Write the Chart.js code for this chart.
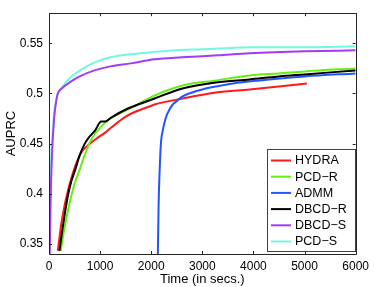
<!DOCTYPE html>
<html>
<head>
<meta charset="utf-8">
<script src="https://cdn.jsdelivr.net/npm/chart.js@4/dist/chart.umd.min.js"></script>
<style>
  html, body { margin:0; padding:0; background:#fff; }
  #wrap { width:374px; height:287px; position:relative; }
</style>
</head>
<body>
<div id="wrap"><canvas id="chart"></canvas></div>
<script>
// values (time in secs, AUPRC)
const hydraT = [172,240,303,370,434,530,630,800,955,1100,1217,1500,1700,1967,2065,2618,3272,3924,4500,5045];
const hydraV = [0.343,0.37,0.388,0.403,0.415,0.43,0.441,0.450,0.456,0.461,0.466,0.477,0.482,0.487,0.489,0.495,0.501,0.504,0.507,0.510];

const pcdRT = [230,300,400,500,600,695,825,1020,1200,1540,1800,2065,2613,3272,3924,4500,5000,6000];
const pcdRV = [0.343,0.365,0.39,0.41,0.424,0.438,0.454,0.467,0.475,0.484,0.491,0.498,0.508,0.513,0.518,0.520,0.522,0.525];

const admmT = [2130,2145,2163,2180,2196,2230,2260,2300,2358,2420,2490,2613,2800,3000,3272,3600,4119,5000,6000];
const admmV = [0.34,0.39,0.421,0.442,0.454,0.464,0.471,0.478,0.484,0.489,0.492,0.497,0.501,0.504,0.507,0.510,0.513,0.517,0.520];

const dbcdRT = [205,250,303,370,434,520,597,700,793,900,1020,1100,1217,1543,1800,2065,2613,3272,3924,4500,5000,6000];
const dbcdRV = [0.343,0.36,0.378,0.398,0.412,0.425,0.438,0.450,0.457,0.463,0.472,0.472,0.476,0.485,0.490,0.495,0.505,0.511,0.514,0.517,0.519,0.523];

const dbcdST = [15,30,60,100,140,172,250,434,600,890,1200,1600,2065,2600,3300,3928,5000,6000];
const dbcdSV = [0.34,0.39,0.44,0.475,0.492,0.500,0.505,0.512,0.517,0.523,0.527,0.530,0.534,0.536,0.538,0.540,0.542,0.543];

const pcdST = [0,10,23,45,75,110,140,172,205,300,400,550,700,900,1200,1600,2000,2500,3000,4000,5000,6000];
const pcdSV = [0.34,0.37,0.395,0.44,0.463,0.485,0.493,0.500,0.503,0.509,0.515,0.521,0.526,0.531,0.536,0.539,0.541,0.543,0.544,0.546,0.546,0.547];

const xTicks = [0,1000,2000,3000,4000,5000,6000];
const yTicks = [0.35,0.4,0.45,0.5,0.55];

const seriesNames = ['HYDRA','PCD\u2212R','ADMM','DBCD\u2212R','DBCD\u2212S','PCD\u2212S'];
const seriesColors = ['#ff1a1a','#66ee11','#2255ff','#000000','#a23cf5','#72f7e2'];
const seriesT = [hydraT, pcdRT, admmT, dbcdRT, dbcdST, pcdST];
const seriesV = [hydraV, pcdRV, admmV, dbcdRV, dbcdSV, pcdSV];

const pts = (ts, vs) => ts.map((t, i) => ({ x:t, y:vs[i] }));
// draw order: light ones first so the overlaps look like the reference
const drawOrder = [5,4,0,2,1,3];
const datasets = drawOrder.map(i => ({
  label: seriesNames[i],
  data: pts(seriesT[i], seriesV[i]),
  borderColor: seriesColors[i],
  borderWidth: 2,
  pointRadius: 0,
  cubicInterpolationMode: 'monotone',
  fill: false,
  order: drawOrder.length - drawOrder.indexOf(i)
}));

const FONT = 'Liberation Sans, Arial, Helvetica, sans-serif';

// matlab style box, inward ticks, legend inside the axes
const boxPlugin = {
  id: 'boxPlugin',
  afterDatasetsDraw(chart) {
    const { ctx, chartArea: a, scales } = chart;
    ctx.save();
    ctx.strokeStyle = '#262626';
    ctx.lineWidth = 1;
    ctx.beginPath();
    ctx.rect(Math.round(a.left) + 0.5, Math.round(a.top) + 0.5, Math.round(a.right - a.left), Math.round(a.bottom - a.top));
    ctx.stroke();
    const tl = 3;
    ctx.beginPath();
    xTicks.forEach(v => {
      const x = Math.round(scales.x.getPixelForValue(v)) + 0.5;
      ctx.moveTo(x, a.bottom); ctx.lineTo(x, a.bottom - tl);
      ctx.moveTo(x, a.top); ctx.lineTo(x, a.top + tl);
    });
    yTicks.forEach(v => {
      const y = Math.round(scales.y.getPixelForValue(v)) + 0.5;
      ctx.moveTo(a.left, y); ctx.lineTo(a.left + tl, y);
      ctx.moveTo(a.right, y); ctx.lineTo(a.right - tl, y);
    });
    ctx.stroke();

    // legend
    const lx = Math.round(a.right) - 89, ly = Math.round(a.bottom) - 105;
    const lw = 88, lh = 102;
    ctx.fillStyle = '#fff';
    ctx.fillRect(lx, ly, lw, lh);
    ctx.strokeStyle = '#404040';
    ctx.strokeRect(lx + 0.5, ly + 0.5, lw, lh);
    ctx.font = '12.5px ' + FONT;
    ctx.textBaseline = 'middle';
    seriesNames.forEach((n, i) => {
      const y = ly + 11.5 + i * 16.2;
      ctx.strokeStyle = seriesColors[i];
      ctx.lineWidth = 2;
      ctx.beginPath();
      ctx.moveTo(lx + 4, y); ctx.lineTo(lx + 24, y);
      ctx.stroke();
      ctx.fillStyle = '#000';
      ctx.fillText(n, lx + 28, y + 0.5);
    });
    ctx.restore();
  }
};

new Chart(document.getElementById('chart'), {
  type: 'line',
  data: { datasets },
  options: {
    responsive: true, maintainAspectRatio: false, animation: false,
    layout: { padding: { left: 0, top: 12, right: 17, bottom: 0 } },
    plugins: { legend: { display: false }, tooltip: { enabled: false } },
    scales: {
      x: {
        type: 'linear', min: 0, max: 6000,
        grid: { display: false, drawTicks: false },
        border: { display: false },
        afterBuildTicks: s => { s.ticks = xTicks.map(v => ({ value: v })); },
        afterFit: s => { s.height = 33; },
        ticks: { color: '#000', padding: 5, maxRotation: 0, font: { family: FONT, size: 12 }, callback: v => String(v) },
        title: { display: true, text: 'Time (in secs.)', color: '#000', padding: { top: 0, bottom: 0 }, font: { family: FONT, size: 13 } }
      },
      y: {
        min: 0.34, max: 0.58,
        grid: { display: false, drawTicks: false },
        border: { display: false },
        afterBuildTicks: s => { s.ticks = yTicks.map(v => ({ value: v })); },
        afterFit: s => { s.width = 49; },
        ticks: { color: '#000', padding: 6, font: { family: FONT, size: 12 }, callback: v => String(+v.toFixed(2)) },
        title: { display: true, text: 'AUPRC', color: '#000', padding: { top: 4, bottom: 2 }, font: { family: FONT, size: 13 } }
      }
    }
  },
  plugins: [boxPlugin]
});
</script>
</body>
</html>
